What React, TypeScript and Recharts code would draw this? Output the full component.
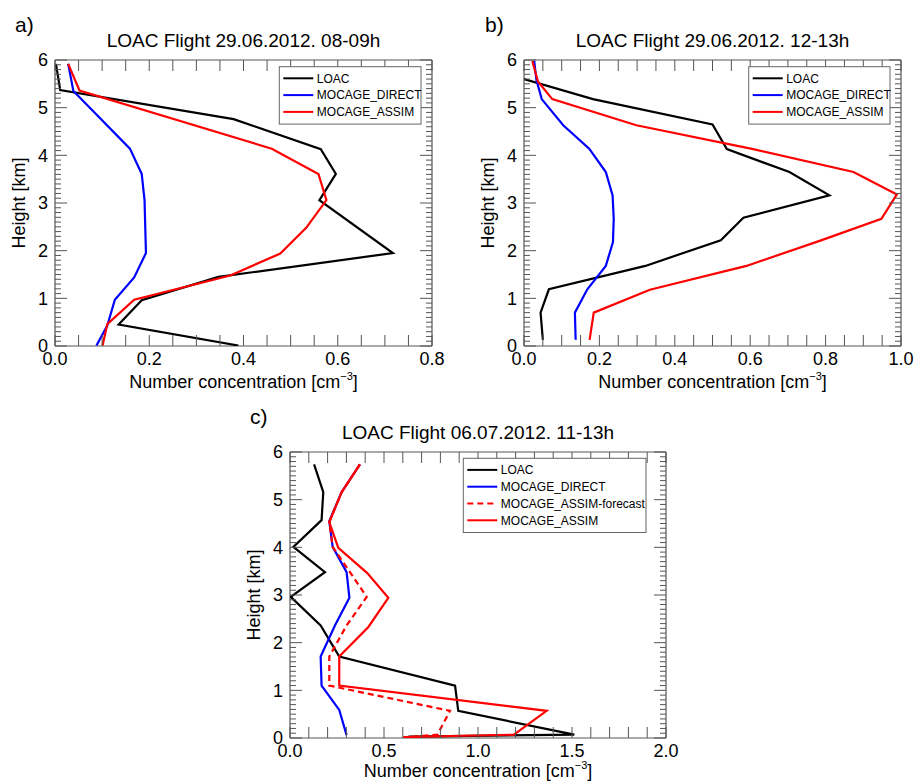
import { ScatterChart, Scatter, XAxis, YAxis } from "recharts";

type Pt = { x: number; y: number };

// ---- panel a) 29.06.2012 08-09h ----
const loacA: Pt[] = [
  { x: 0.002, y: 5.92 }, { x: 0.011, y: 5.37 }, { x: 0.379, y: 4.76 }, { x: 0.564, y: 4.13 },
  { x: 0.596, y: 3.61 }, { x: 0.561, y: 3.06 }, { x: 0.717, y: 1.95 }, { x: 0.347, y: 1.45 },
  { x: 0.184, y: 0.96 }, { x: 0.135, y: 0.45 }, { x: 0.389, y: 0.01 },
];
const directA: Pt[] = [
  { x: 0.028, y: 5.92 }, { x: 0.039, y: 5.35 }, { x: 0.159, y: 4.14 }, { x: 0.184, y: 3.61 },
  { x: 0.19, y: 3.06 }, { x: 0.193, y: 1.95 }, { x: 0.168, y: 1.44 }, { x: 0.127, y: 0.97 },
  { x: 0.111, y: 0.43 }, { x: 0.088, y: 0.01 },
];
const assimA: Pt[] = [
  { x: 0.028, y: 5.92 }, { x: 0.052, y: 5.36 }, { x: 0.46, y: 4.14 }, { x: 0.559, y: 3.61 },
  { x: 0.576, y: 3.06 }, { x: 0.533, y: 2.48 }, { x: 0.478, y: 1.94 }, { x: 0.372, y: 1.48 },
  { x: 0.168, y: 0.97 }, { x: 0.111, y: 0.46 }, { x: 0.101, y: 0.01 },
];

// ---- panel b) 29.06.2012 12-13h ----
const loacB: Pt[] = [
  { x: 0.0, y: 5.6 }, { x: 0.183, y: 5.18 }, { x: 0.5, y: 4.65 }, { x: 0.538, y: 4.13 },
  { x: 0.704, y: 3.65 }, { x: 0.81, y: 3.16 }, { x: 0.582, y: 2.69 }, { x: 0.522, y: 2.22 },
  { x: 0.322, y: 1.68 }, { x: 0.066, y: 1.19 }, { x: 0.044, y: 0.7 }, { x: 0.05, y: 0.13 },
];
const directB: Pt[] = [
  { x: 0.027, y: 5.98 }, { x: 0.033, y: 5.58 }, { x: 0.047, y: 5.18 }, { x: 0.104, y: 4.63 },
  { x: 0.173, y: 4.14 }, { x: 0.217, y: 3.65 }, { x: 0.235, y: 3.16 }, { x: 0.238, y: 2.67 },
  { x: 0.236, y: 2.18 }, { x: 0.217, y: 1.68 }, { x: 0.168, y: 1.19 }, { x: 0.135, y: 0.7 },
  { x: 0.137, y: 0.13 },
];
const assimB: Pt[] = [
  { x: 0.022, y: 5.98 }, { x: 0.037, y: 5.55 }, { x: 0.075, y: 5.18 }, { x: 0.298, y: 4.63 },
  { x: 0.608, y: 4.13 }, { x: 0.874, y: 3.65 }, { x: 0.989, y: 3.18 }, { x: 0.948, y: 2.67 },
  { x: 0.786, y: 2.21 }, { x: 0.59, y: 1.68 }, { x: 0.334, y: 1.18 }, { x: 0.185, y: 0.7 },
  { x: 0.174, y: 0.13 },
];

// ---- panel c) 06.07.2012 11-13h ----
const loacC: Pt[] = [
  { x: 0.128, y: 5.74 }, { x: 0.177, y: 5.16 }, { x: 0.168, y: 4.57 }, { x: 0.018, y: 4.01 },
  { x: 0.186, y: 3.48 }, { x: 0.004, y: 2.96 }, { x: 0.163, y: 2.36 }, { x: 0.262, y: 1.71 },
  { x: 0.878, y: 1.1 }, { x: 0.895, y: 0.57 }, { x: 1.512, y: 0.07 }, { x: 0.63, y: 0.03 },
];
const directC: Pt[] = [
  { x: 0.372, y: 5.74 }, { x: 0.275, y: 5.16 }, { x: 0.209, y: 4.55 }, { x: 0.227, y: 4.01 },
  { x: 0.301, y: 3.48 }, { x: 0.316, y: 2.94 }, { x: 0.239, y: 2.36 }, { x: 0.163, y: 1.71 },
  { x: 0.168, y: 1.1 }, { x: 0.262, y: 0.59 }, { x: 0.301, y: 0.06 },
];
const forecastC: Pt[] = [
  { x: 0.372, y: 5.74 }, { x: 0.275, y: 5.16 }, { x: 0.209, y: 4.53 }, { x: 0.227, y: 4.01 },
  { x: 0.319, y: 3.48 }, { x: 0.408, y: 2.96 }, { x: 0.301, y: 2.36 }, { x: 0.209, y: 1.71 },
  { x: 0.209, y: 1.1 }, { x: 0.851, y: 0.57 }, { x: 0.784, y: 0.07 }, { x: 0.603, y: 0.01 },
];
const assimC: Pt[] = [
  { x: 0.372, y: 5.74 }, { x: 0.275, y: 5.16 }, { x: 0.209, y: 4.53 }, { x: 0.257, y: 3.99 },
  { x: 0.411, y: 3.46 }, { x: 0.523, y: 2.94 }, { x: 0.417, y: 2.33 }, { x: 0.262, y: 1.71 },
  { x: 0.262, y: 1.1 }, { x: 1.365, y: 0.57 }, { x: 1.191, y: 0.07 }, { x: 0.603, y: 0.02 },
];

// ---- ticks ----
const xTicksA = [0, 0.05, 0.1, 0.15, 0.2, 0.25, 0.3, 0.35, 0.4, 0.45, 0.5, 0.55, 0.6, 0.65, 0.7, 0.75, 0.8];
const xLabelsA = [0, 0.2, 0.4, 0.6, 0.8];
const xTicksB = [0, 0.05, 0.1, 0.15, 0.2, 0.25, 0.3, 0.35, 0.4, 0.45, 0.5, 0.55, 0.6, 0.65, 0.7, 0.75, 0.8, 0.85, 0.9, 0.95, 1.0];
const xLabelsB = [0, 0.2, 0.4, 0.6, 0.8, 1.0];
const xTicksC = [0, 0.1, 0.2, 0.3, 0.4, 0.5, 0.6, 0.7, 0.8, 0.9, 1.0, 1.1, 1.2, 1.3, 1.4, 1.5, 1.6, 1.7, 1.8, 1.9, 2.0];
const xLabelsC = [0, 0.5, 1.0, 1.5, 2.0];
const heightTicks = Array.from({ length: 61 }, (_, i) => i / 10);
const heightLabels = [0, 1, 2, 3, 4, 5, 6];

const titles = [
  "LOAC Flight 29.06.2012. 08-09h",
  "LOAC Flight 29.06.2012. 12-13h",
  "LOAC Flight 06.07.2012. 11-13h",
];
const names = ["LOAC", "MOCAGE_DIRECT", "MOCAGE_ASSIM-forecast", "MOCAGE_ASSIM"];

const FONT = '"Liberation Sans", Arial, Helvetica, sans-serif';
const AXIS = "#555555";
const BLACK = "#000000";
const BLUE = "#0000ff";
const RED = "#ff0000";

const has = (arr: number[], v: number) => arr.some((a) => Math.abs(a - v) < 1e-6);

type Series = { data: Pt[]; color: string; dash?: string };

function Panel({
  left, top, width, height, margin, xMax, xTicks, xLabels, series,
}: {
  left: number; top: number; width: number; height: number;
  margin: { top: number; right: number; bottom: number; left: number };
  xMax: number; xTicks: number[]; xLabels: number[]; series: Series[];
}) {
  const bottomTick = (p: any) => {
    const v = p.payload.value;
    return (
      <g>
        <line x1={p.x} x2={p.x} y1={p.y} y2={p.y - 11} stroke={AXIS} />
        {has(xLabels, v) && (
          <text x={p.x} y={p.y + 19} textAnchor="middle" fontSize={18} fontFamily={FONT} fill="#000">
            {v.toFixed(1)}
          </text>
        )}
      </g>
    );
  };
  const topTick = (p: any) => (
    <line x1={p.x} x2={p.x} y1={p.y} y2={p.y + 11} stroke={AXIS} />
  );
  const leftTick = (p: any) => {
    const v = p.payload.value;
    const major = has(heightLabels, v);
    return (
      <g>
        <line x1={p.x} x2={p.x + (major ? 12 : 6)} y1={p.y} y2={p.y} stroke={AXIS} />
        {major && (
          <text x={p.x - 7} y={p.y} dy="0.36em" textAnchor="end" fontSize={18} fontFamily={FONT} fill="#000">
            {v}
          </text>
        )}
      </g>
    );
  };
  const rightTick = (p: any) => {
    const major = has(heightLabels, p.payload.value);
    return <line x1={p.x} x2={p.x - (major ? 12 : 6)} y1={p.y} y2={p.y} stroke={AXIS} />;
  };

  return (
    <div style={{ position: "absolute", left, top }}>
      <ScatterChart width={width} height={height} margin={margin}>
        <XAxis
          xAxisId="b" orientation="bottom" type="number" dataKey="x" domain={[0, xMax]}
          ticks={xTicks} interval={0} allowDataOverflow height={40} tickSize={0} tickMargin={0}
          tickLine={false} axisLine={{ stroke: AXIS, strokeWidth: 1.2 }} tick={bottomTick}
        />
        <XAxis
          xAxisId="t" orientation="top" type="number" dataKey="x" domain={[0, xMax]}
          ticks={xTicks} interval={0} allowDataOverflow height={10} tickSize={0} tickMargin={0}
          tickLine={false} axisLine={{ stroke: AXIS, strokeWidth: 1.2 }} tick={topTick}
        />
        <YAxis
          yAxisId="l" orientation="left" type="number" dataKey="y" domain={[0, 6]}
          ticks={heightTicks} interval={0} allowDataOverflow width={40} tickSize={0} tickMargin={0}
          tickLine={false} axisLine={{ stroke: AXIS, strokeWidth: 1.2 }} tick={leftTick}
        />
        <YAxis
          yAxisId="r" orientation="right" type="number" dataKey="y" domain={[0, 6]}
          ticks={heightTicks} interval={0} allowDataOverflow width={10} tickSize={0} tickMargin={0}
          tickLine={false} axisLine={{ stroke: AXIS, strokeWidth: 1.2 }} tick={rightTick}
        />
        {series.map((s, i) => (
          <Scatter
            key={i}
            xAxisId="b"
            yAxisId="l"
            data={s.data}
            fill="none"
            line={{ stroke: s.color, strokeWidth: 2.2, strokeDasharray: s.dash, fill: "none" }}
            shape={() => <g />}
            isAnimationActive={false}
          />
        ))}
      </ScatterChart>
    </div>
  );
}

function LegendBox({ x, y, w, items }: { x: number; y: number; w: number; items: any[] }) {
  const rowH = 16.8;
  return (
    <g>
      <rect x={x} y={y} width={w} height={items.length * rowH + 7} fill="#fff" stroke="#666" strokeWidth={1} />
      {items.map((it: any, i: number) => {
        const ry = y + 11.6 + i * rowH;
        return (
          <g key={i}>
            <line x1={x + 4} x2={x + 34} y1={ry} y2={ry} stroke={it.color} strokeWidth={2} strokeDasharray={it.dash} />
            <text x={x + 37.5} y={ry + 4.3} fontSize={12} fontFamily={FONT} fill="#000">{it.name}</text>
          </g>
        );
      })}
    </g>
  );
}

function XLabel({ x, y }: { x: number; y: number }) {
  return (
    <text x={x} y={y} textAnchor="middle" fontSize={18} fontFamily={FONT} fill="#000">
      Number concentration [cm
      <tspan dy={-8} fontSize={11}>−3</tspan>
      <tspan dy={8}>]</tspan>
    </text>
  );
}

function YLabel({ x, y }: { x: number; y: number }) {
  return (
    <text transform={`translate(${x},${y}) rotate(-90)`} textAnchor="middle" fontSize={18} fontFamily={FONT} fill="#000">
      Height [km]
    </text>
  );
}

export default function App() {
  const legend3 = [
    { name: names[0], color: BLACK },
    { name: names[1], color: BLUE },
    { name: names[3], color: RED },
  ];
  const legend4 = [
    { name: names[0], color: BLACK },
    { name: names[1], color: BLUE },
    { name: names[2], color: RED, dash: "6 4" },
    { name: names[3], color: RED },
  ];
  return (
    <div style={{ position: "absolute", left: 0, top: 0, width: 914, height: 781, background: "#fff", fontFamily: FONT }}>
      <Panel
        left={0} top={0} width={460} height={400}
        margin={{ top: 50, right: 18, bottom: 14, left: 15 }}
        xMax={0.8} xTicks={xTicksA} xLabels={xLabelsA}
        series={[
          { data: loacA, color: BLACK },
          { data: directA, color: BLUE },
          { data: assimA, color: RED },
        ]}
      />
      <Panel
        left={470} top={0} width={444} height={400}
        margin={{ top: 50, right: 3, bottom: 14, left: 14 }}
        xMax={1.0} xTicks={xTicksB} xLabels={xLabelsB}
        series={[
          { data: loacB, color: BLACK },
          { data: directB, color: BLUE },
          { data: assimB, color: RED },
        ]}
      />
      <Panel
        left={240} top={400} width={450} height={381}
        margin={{ top: 42, right: 14, bottom: 3, left: 10 }}
        xMax={2.0} xTicks={xTicksC} xLabels={xLabelsC}
        series={[
          { data: loacC, color: BLACK },
          { data: directC, color: BLUE },
          { data: forecastC, color: RED, dash: "6 4" },
          { data: assimC, color: RED },
        ]}
      />
      <svg width={914} height={781} style={{ position: "absolute", left: 0, top: 0, pointerEvents: "none", overflow: "visible" }}>
        <text x={15} y={32} fontSize={21} fontFamily={FONT}>a)</text>
        <text x={485} y={32} fontSize={21} fontFamily={FONT}>b)</text>
        <text x={250} y={424} fontSize={21} fontFamily={FONT}>c)</text>
        <text x={243.5} y={47} textAnchor="middle" fontSize={19} fontFamily={FONT}>{titles[0]}</text>
        <text x={712.5} y={47} textAnchor="middle" fontSize={19} fontFamily={FONT}>{titles[1]}</text>
        <text x={478} y={439} textAnchor="middle" fontSize={19} fontFamily={FONT}>{titles[2]}</text>
        <XLabel x={243.5} y={388} />
        <XLabel x={712.5} y={388} />
        <XLabel x={478} y={777} />
        <YLabel x={25} y={203} />
        <YLabel x={494} y={203} />
        <YLabel x={260} y={595} />
        <LegendBox x={279.3} y={66.7} w={141.7} items={legend3} />
        <LegendBox x={748.7} y={66.7} w={141.3} items={legend3} />
        <LegendBox x={463.3} y={458.3} w={182.7} items={legend4} />
      </svg>
    </div>
  );
}
